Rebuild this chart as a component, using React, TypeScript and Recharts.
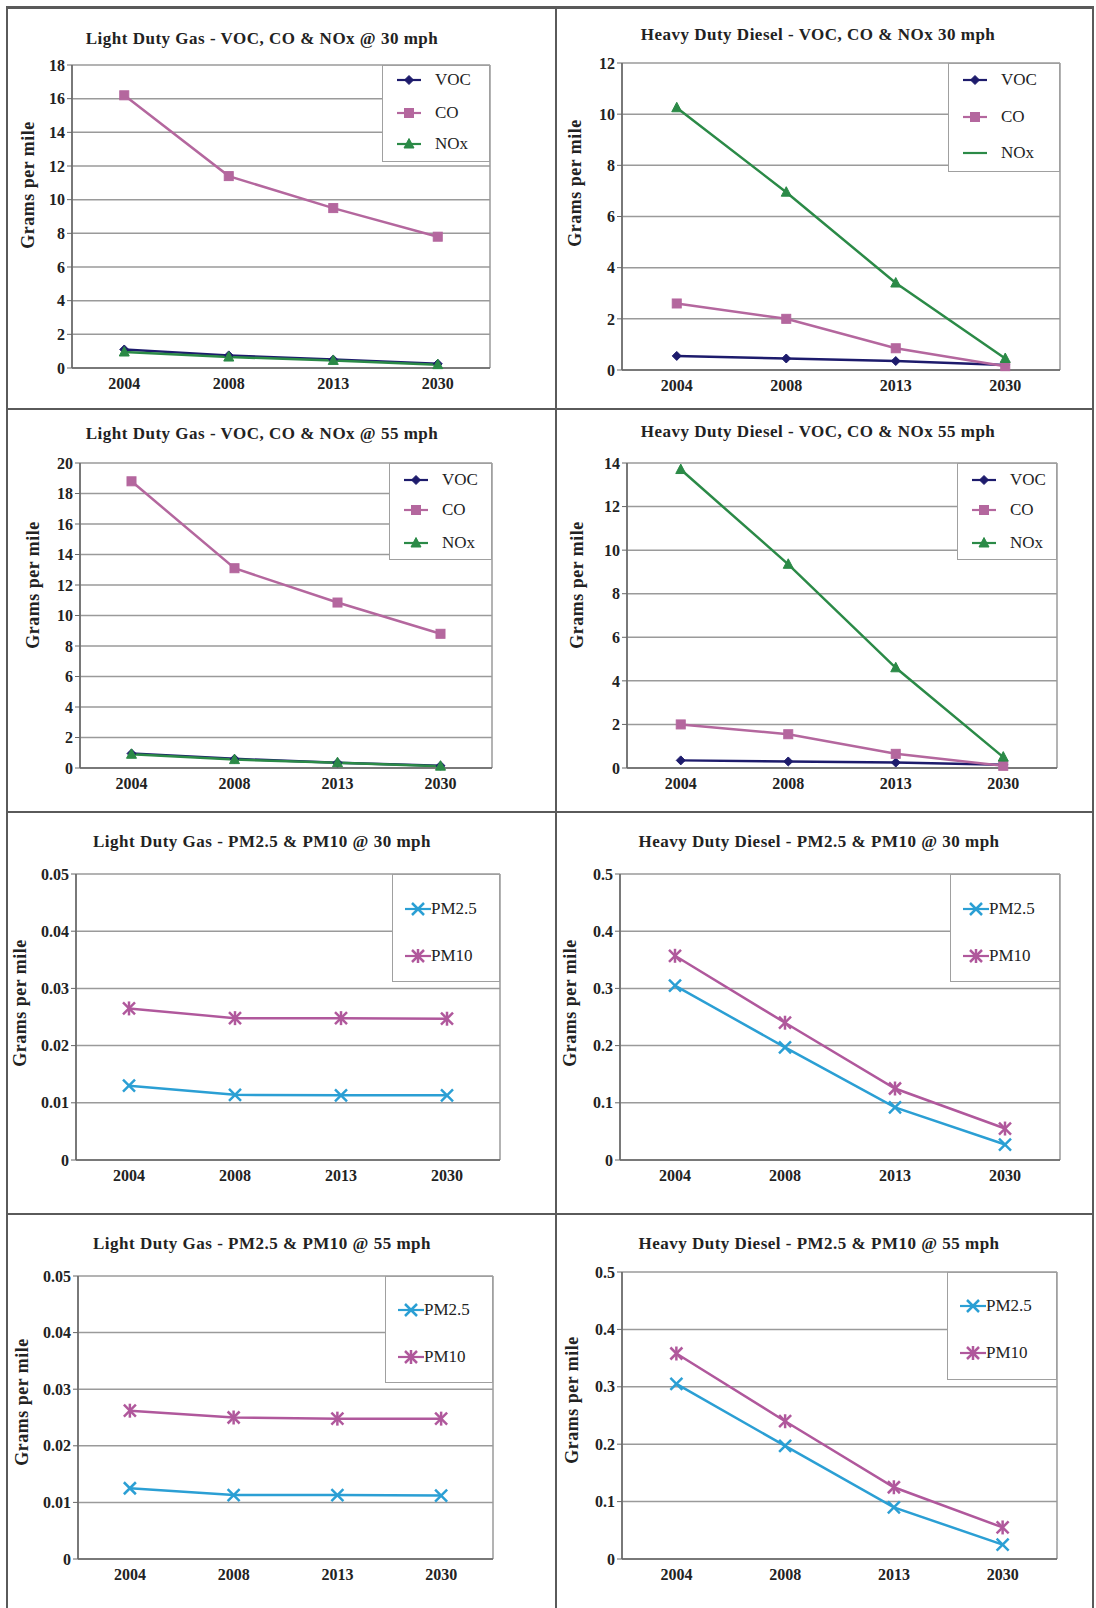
import { LineChart, Line, XAxis, YAxis, CartesianGrid } from "recharts";

const YEARS = ["2004", "2008", "2013", "2030"];

// Light Duty Gas - VOC, CO & NOx @ 30 mph
const LDG30_VOC = [1.1, 0.75, 0.5, 0.25];
const LDG30_CO = [16.2, 11.4, 9.5, 7.8];
const LDG30_NOX = [0.95, 0.65, 0.45, 0.2];
const LDG30_TICKS = [0, 2, 4, 6, 8, 10, 12, 14, 16, 18];

// Heavy Duty Diesel - VOC, CO & NOx 30 mph
const HDD30_VOC = [0.55, 0.45, 0.35, 0.2];
const HDD30_CO = [2.6, 2.0, 0.85, 0.15];
const HDD30_NOX = [10.25, 6.95, 3.4, 0.45];
const HDD30_TICKS = [0, 2, 4, 6, 8, 10, 12];

// Light Duty Gas - VOC, CO & NOx @ 55 mph
const LDG55_VOC = [0.95, 0.6, 0.35, 0.15];
const LDG55_CO = [18.8, 13.1, 10.85, 8.8];
const LDG55_NOX = [0.9, 0.55, 0.35, 0.12];
const LDG55_TICKS = [0, 2, 4, 6, 8, 10, 12, 14, 16, 18, 20];

// Heavy Duty Diesel - VOC, CO & NOx 55 mph
const HDD55_VOC = [0.35, 0.3, 0.25, 0.15];
const HDD55_CO = [2.0, 1.55, 0.65, 0.1];
const HDD55_NOX = [13.7, 9.35, 4.6, 0.5];
const HDD55_TICKS = [0, 2, 4, 6, 8, 10, 12, 14];

// PM panels
const LDGPM30_PM25 = [0.013, 0.0114, 0.0113, 0.0113];
const LDGPM30_PM10 = [0.0265, 0.0248, 0.0248, 0.0247];
const HDDPM30_PM25 = [0.305, 0.197, 0.092, 0.027];
const HDDPM30_PM10 = [0.357, 0.24, 0.125, 0.055];
const LDGPM55_PM25 = [0.0125, 0.0113, 0.0113, 0.0112];
const LDGPM55_PM10 = [0.0262, 0.025, 0.0248, 0.0248];
const HDDPM55_PM25 = [0.305, 0.197, 0.09, 0.025];
const HDDPM55_PM10 = [0.358, 0.24, 0.125, 0.055];
const LDG_PM_TICKS = [0, 0.01, 0.02, 0.03, 0.04, 0.05];
const HDD_PM_TICKS = [0, 0.1, 0.2, 0.3, 0.4, 0.5];

const C_VOC = "#1d1b6c";
const C_CO = "#b4679e";
const C_NOX = "#2b8a47";
const C_PM25 = "#2b9fd4";
const C_PM10 = "#b0589c";

const FONT = "'Liberation Serif', 'Times New Roman', serif";

type Shape = "diamond" | "square" | "triangle" | "x" | "star";
type Series = { name: string; values: number[]; color: string; shape: Shape; noLegendMarker?: boolean };
type Rect = { l: number; t: number; r: number; b: number };
type Panel = {
  title: string;
  series: Series[];
  ticks: number[];
  cell: Rect;
  plot: Rect;
  titleY: number;
  titleX: number;
  legend: Rect;
  legendRows: number[];
  ylabel: [number, number];
  pm?: boolean;
};

const vocSeries = (voc: number[], co: number[], nox: number[], noxMarker = true): Series[] => [
  { name: "VOC", values: voc, color: C_VOC, shape: "diamond" },
  { name: "CO", values: co, color: C_CO, shape: "square" },
  { name: "NOx", values: nox, color: C_NOX, shape: "triangle", noLegendMarker: !noxMarker },
];
const pmSeries = (pm25: number[], pm10: number[]): Series[] => [
  { name: "PM2.5", values: pm25, color: C_PM25, shape: "x" },
  { name: "PM10", values: pm10, color: C_PM10, shape: "star" },
];

const PANELS: Panel[] = [
  {
    title: "Light Duty Gas - VOC, CO & NOx @ 30 mph",
    series: vocSeries(LDG30_VOC, LDG30_CO, LDG30_NOX),
    ticks: LDG30_TICKS,
    cell: { l: 7, t: 7, r: 556, b: 409 },
    plot: { l: 72, t: 65, r: 490, b: 368 },
    titleX: 262, titleY: 40,
    legend: { l: 382, t: 65, r: 490, b: 162 },
    legendRows: [14, 47, 78],
    ylabel: [28, 185],
  },
  {
    title: "Heavy Duty Diesel - VOC, CO & NOx 30 mph",
    series: vocSeries(HDD30_VOC, HDD30_CO, HDD30_NOX, false),
    ticks: HDD30_TICKS,
    cell: { l: 556, t: 7, r: 1093, b: 409 },
    plot: { l: 622, t: 63, r: 1060, b: 370 },
    titleX: 818, titleY: 36,
    legend: { l: 948, t: 63, r: 1060, b: 172 },
    legendRows: [16, 53, 89],
    ylabel: [575, 183],
  },
  {
    title: "Light Duty Gas - VOC, CO & NOx @ 55 mph",
    series: vocSeries(LDG55_VOC, LDG55_CO, LDG55_NOX),
    ticks: LDG55_TICKS,
    cell: { l: 7, t: 409, r: 556, b: 812 },
    plot: { l: 80, t: 463, r: 492, b: 768 },
    titleX: 262, titleY: 435,
    legend: { l: 389, t: 463, r: 492, b: 560 },
    legendRows: [16, 46, 79],
    ylabel: [33, 585],
  },
  {
    title: "Heavy Duty Diesel - VOC, CO & NOx 55 mph",
    series: vocSeries(HDD55_VOC, HDD55_CO, HDD55_NOX),
    ticks: HDD55_TICKS,
    cell: { l: 556, t: 409, r: 1093, b: 812 },
    plot: { l: 627, t: 463, r: 1057, b: 768 },
    titleX: 818, titleY: 433,
    legend: { l: 957, t: 463, r: 1057, b: 560 },
    legendRows: [16, 46, 79],
    ylabel: [577, 585],
  },
  {
    title: "Light Duty Gas - PM2.5 & PM10 @ 30 mph",
    series: pmSeries(LDGPM30_PM25, LDGPM30_PM10),
    ticks: LDG_PM_TICKS,
    cell: { l: 7, t: 812, r: 556, b: 1214 },
    plot: { l: 76, t: 874, r: 500, b: 1160 },
    titleX: 262, titleY: 843,
    legend: { l: 392, t: 874, r: 500, b: 982 },
    legendRows: [34, 81],
    ylabel: [20, 1003],
    pm: true,
  },
  {
    title: "Heavy Duty Diesel - PM2.5 & PM10 @ 30 mph",
    series: pmSeries(HDDPM30_PM25, HDDPM30_PM10),
    ticks: HDD_PM_TICKS,
    cell: { l: 556, t: 812, r: 1093, b: 1214 },
    plot: { l: 620, t: 874, r: 1060, b: 1160 },
    titleX: 819, titleY: 843,
    legend: { l: 950, t: 874, r: 1060, b: 982 },
    legendRows: [34, 81],
    ylabel: [570, 1003],
    pm: true,
  },
  {
    title: "Light Duty Gas - PM2.5 & PM10 @ 55 mph",
    series: pmSeries(LDGPM55_PM25, LDGPM55_PM10),
    ticks: LDG_PM_TICKS,
    cell: { l: 7, t: 1214, r: 556, b: 1608 },
    plot: { l: 78, t: 1276, r: 493, b: 1559 },
    titleX: 262, titleY: 1245,
    legend: { l: 385, t: 1276, r: 493, b: 1383 },
    legendRows: [33, 80],
    ylabel: [22, 1402],
    pm: true,
  },
  {
    title: "Heavy Duty Diesel - PM2.5 & PM10 @ 55 mph",
    series: pmSeries(HDDPM55_PM25, HDDPM55_PM10),
    ticks: HDD_PM_TICKS,
    cell: { l: 556, t: 1214, r: 1093, b: 1608 },
    plot: { l: 622, t: 1272, r: 1057, b: 1559 },
    titleX: 819, titleY: 1245,
    legend: { l: 947, t: 1272, r: 1057, b: 1380 },
    legendRows: [33, 80],
    ylabel: [572, 1400],
    pm: true,
  },
];

const Marker = ({ shape, cx, cy, color }: { shape: Shape; cx: number; cy: number; color: string }) => {
  if (shape === "diamond")
    return <polygon points={`${cx},${cy - 4.5} ${cx + 4.5},${cy} ${cx},${cy + 4.5} ${cx - 4.5},${cy}`} fill={color} stroke={color} />;
  if (shape === "square")
    return <rect x={cx - 4.5} y={cy - 4.5} width={9} height={9} fill={color} stroke={color} />;
  if (shape === "triangle")
    return <polygon points={`${cx},${cy - 5.5} ${cx + 5},${cy + 4} ${cx - 5},${cy + 4}`} fill={color} stroke={color} />;
  const s = 6;
  return (
    <g stroke={color} strokeWidth={2.5}>
      <line x1={cx - s} y1={cy - s} x2={cx + s} y2={cy + s} />
      <line x1={cx - s} y1={cy + s} x2={cx + s} y2={cy - s} />
      {shape === "star" && <line x1={cx} y1={cy - s - 1} x2={cx} y2={cy + s + 1} />}
    </g>
  );
};

const tickStyle = { fontFamily: FONT, fontWeight: 700, fontSize: 16, fill: "#222" };
const YW = 44;
const XH = 30;

const ChartPanel = ({ p }: { p: Panel }) => {
  const data = YEARS.map((y, i) => {
    const row: Record<string, number | string> = { year: y };
    p.series.forEach((s) => (row[s.name] = s.values[i]));
    return row;
  });
  const w = p.cell.r - p.cell.l;
  const h = p.cell.b - p.cell.t;
  const margin = {
    top: p.plot.t - p.cell.t,
    left: p.plot.l - p.cell.l - YW,
    right: p.cell.r - p.plot.r,
    bottom: p.cell.b - p.plot.b - XH,
  };
  const max = p.ticks[p.ticks.length - 1];
  return (
    <>
      <div style={{ position: "absolute", left: p.cell.l, top: p.cell.t }}>
        <LineChart width={w} height={h} data={data} margin={margin}>
          <CartesianGrid
            stroke="#9a9a9a"
            strokeWidth={1.5}
            verticalCoordinatesGenerator={({ offset }: any) => [offset.left, offset.left + offset.width]}
          />
          <XAxis
            dataKey="year"
            scale="band"
            height={XH}
            tick={tickStyle}
            tickLine={false}
            axisLine={{ stroke: "#666", strokeWidth: 1.5 }}
            interval={0}
            dy={2}
          />
          <YAxis
            width={YW}
            domain={[0, max]}
            ticks={p.ticks}
            interval={0}
            tick={tickStyle}
            tickLine={{ stroke: "#666" }}
            tickSize={5}
            axisLine={{ stroke: "#666", strokeWidth: 1.5 }}
            tickFormatter={(v: number) => String(v)}
          />
          {p.series.map((s) => (
            <Line
              key={s.name}
              type="linear"
              dataKey={s.name}
              stroke={s.color}
              strokeWidth={2.5}
              isAnimationActive={false}
              dot={(d: any) => <Marker key={`${s.name}-${d.index}`} shape={s.shape} cx={d.cx} cy={d.cy} color={s.color} />}
              activeDot={false}
            />
          ))}
        </LineChart>
      </div>
      <div
        style={{
          position: "absolute",
          left: p.titleX - 300,
          width: 600,
          top: p.titleY - 11,
          textAlign: "center",
          fontFamily: FONT,
          fontWeight: 700,
          fontSize: 17,
          letterSpacing: 0.5,
          color: "#222",
          whiteSpace: "nowrap",
        }}
      >
        {p.title}
      </div>
      <div
        style={{
          position: "absolute",
          left: p.ylabel[0],
          top: p.ylabel[1],
          transform: "translate(-50%, -50%) rotate(-90deg)",
          fontFamily: FONT,
          fontWeight: 700,
          fontSize: 18,
          letterSpacing: 0.5,
          color: "#222",
          whiteSpace: "nowrap",
        }}
      >
        Grams per mile
      </div>
      <div
        style={{
          position: "absolute",
          left: p.legend.l,
          top: p.legend.t,
          width: p.legend.r - p.legend.l,
          height: p.legend.b - p.legend.t,
          background: "#fff",
          border: "1px solid #a0a0a0",
          boxSizing: "border-box",
        }}
      >
        {p.series.map((s, i) => (
          <div
            key={s.name}
            style={{
              position: "absolute",
              left: p.pm ? 12 : 14,
              top: p.legendRows[i] - 10,
              height: 20,
              display: "flex",
              alignItems: "center",
              fontFamily: FONT,
              fontSize: 17,
              color: "#222",
            }}
          >
            <svg width={p.pm ? 26 : 24} height={20} style={{ marginRight: p.pm ? 0 : 14 }}>
              <line x1={0} y1={10} x2={p.pm ? 26 : 24} y2={10} stroke={s.color} strokeWidth={2.2} />
              {!s.noLegendMarker && (
                <Marker shape={s.shape} cx={p.pm ? 13 : 12} cy={10} color={s.color} />
              )}
            </svg>
            <span>{s.name}</span>
          </div>
        ))}
      </div>
    </>
  );
};

const FRAME = "#5a5a5a";

const App = () => (
  <div style={{ position: "absolute", left: 0, top: 0, width: 1096, height: 1608, background: "#fff", overflow: "hidden" }}>
    {PANELS.map((p) => (
      <ChartPanel key={p.title} p={p} />
    ))}
    <div style={{ position: "absolute", left: 6, top: 6, width: 1088, height: 3, background: FRAME }} />
    <div style={{ position: "absolute", left: 6, top: 6, width: 2, height: 1602, background: FRAME }} />
    <div style={{ position: "absolute", left: 1092, top: 6, width: 2, height: 1602, background: FRAME }} />
    <div style={{ position: "absolute", left: 555, top: 6, width: 2, height: 1602, background: FRAME }} />
    {[408, 811, 1213].map((y) => (
      <div key={y} style={{ position: "absolute", left: 6, top: y, width: 1088, height: 2, background: FRAME }} />
    ))}
  </div>
);

export default App;
